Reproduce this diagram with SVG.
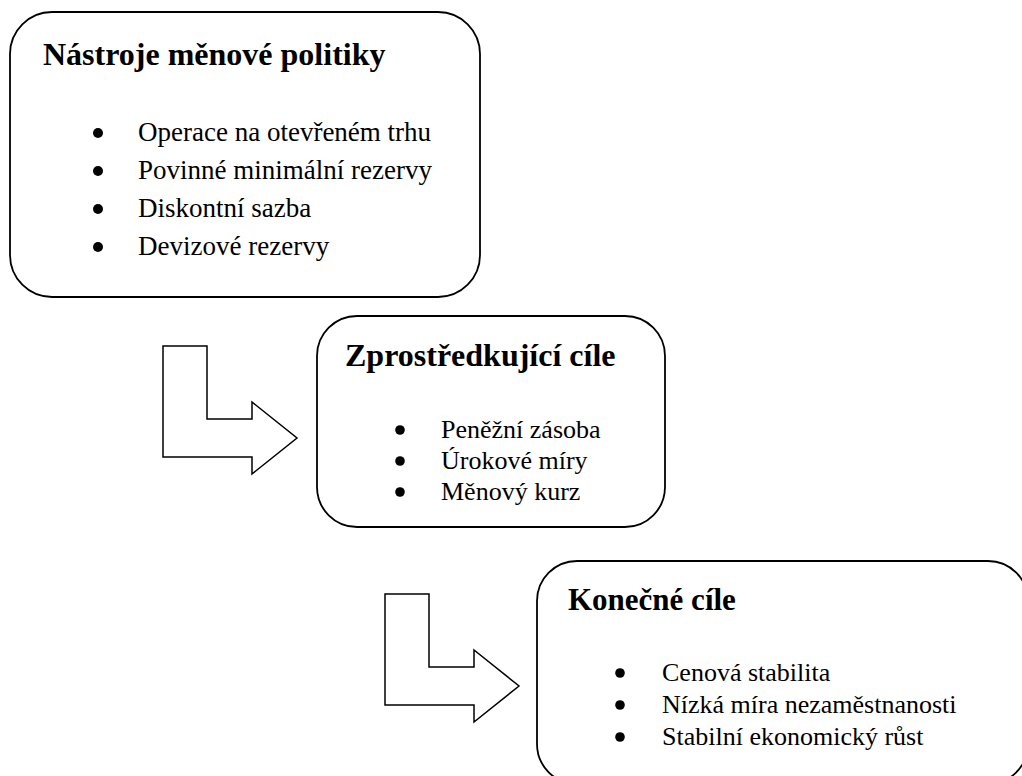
<svg xmlns="http://www.w3.org/2000/svg" width="1022" height="776" viewBox="0 0 1022 776">
<style>
.box{fill:#fff;stroke:#000;stroke-width:1.8}
.arr{fill:#fff;stroke:#000;stroke-width:1.5;stroke-linejoin:miter}
.t{font-family:"Liberation Serif","Times New Roman",serif;font-weight:bold;fill:#000}
.i{font-family:"Liberation Serif","Times New Roman",serif;fill:#000}
.b{fill:#000}
</style>
<rect width="1022" height="776" fill="#fff"/>
<g id="connectors">
<polygon class="arr" points="163,346 207,346 207,419 252,419 252,402 297,438 252,474 252,457 163,457"/>
<polygon class="arr" points="385,594 429,594 429,667 474,667 474,650 519,686 474,722 474,705 385,705"/>
</g>
<g id="node1">
<rect class="box" x="10" y="12" width="470" height="285" rx="42" ry="42"/>
<text class="t" x="43" y="65" font-size="32">Nástroje měnové politiky</text>
<circle class="b" cx="98" cy="133" r="5"/>
<circle class="b" cx="98" cy="171" r="5"/>
<circle class="b" cx="98" cy="209" r="5"/>
<circle class="b" cx="98" cy="247" r="5"/>
<text class="i" x="138" y="141" font-size="27">Operace na otevřeném trhu</text>
<text class="i" x="138" y="179" font-size="27">Povinné minimální rezervy</text>
<text class="i" x="138" y="217" font-size="27">Diskontní sazba</text>
<text class="i" x="138" y="255" font-size="27">Devizové rezervy</text>
</g>
<g id="node2">
<rect class="box" x="317" y="316" width="348" height="211" rx="40" ry="40"/>
<text class="t" x="345" y="366" font-size="32">Zprostředkující cíle</text>
<circle class="b" cx="400" cy="430" r="4.8"/>
<circle class="b" cx="400" cy="461" r="4.8"/>
<circle class="b" cx="400" cy="492" r="4.8"/>
<text class="i" x="441" y="438" font-size="26">Peněžní zásoba</text>
<text class="i" x="441" y="469" font-size="26">Úrokové míry</text>
<text class="i" x="441" y="500" font-size="26">Měnový kurz</text>
</g>
<g id="node3">
<rect class="box" x="537" y="561" width="491" height="223" rx="40" ry="40"/>
<text class="t" x="568" y="610" font-size="31">Konečné cíle</text>
<circle class="b" cx="620" cy="673" r="4.8"/>
<circle class="b" cx="620" cy="705" r="4.8"/>
<circle class="b" cx="620" cy="737" r="4.8"/>
<text class="i" x="662" y="681" font-size="26">Cenová stabilita</text>
<text class="i" x="662" y="713" font-size="26">Nízká míra nezaměstnanosti</text>
<text class="i" x="662" y="745" font-size="26">Stabilní ekonomický růst</text>
</g>
</svg>
